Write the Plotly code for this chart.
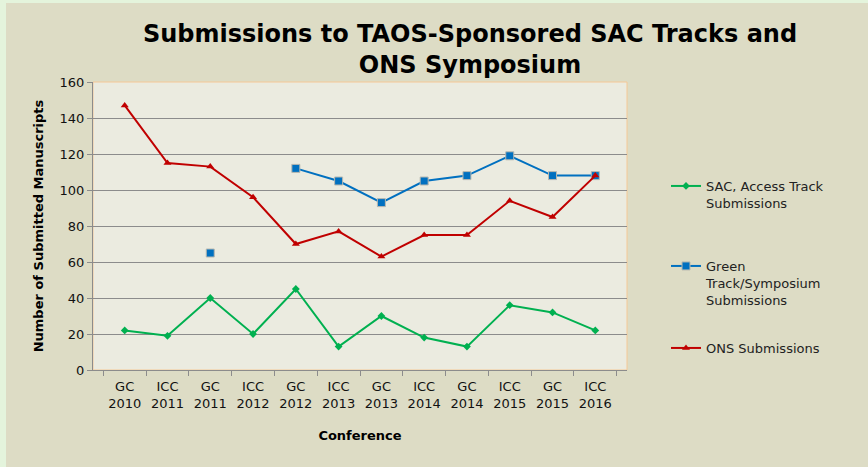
import plotly.graph_objects as go

categories = ["GC<br>2010", "ICC<br>2011", "GC<br>2011", "ICC<br>2012", "GC<br>2012", "ICC<br>2013",
              "GC<br>2013", "ICC<br>2014", "GC<br>2014", "ICC<br>2015", "GC<br>2015", "ICC<br>2016"]
sac_access = [22, 19, 40, 20, 45, 13, 30, 18, 13, 36, 32, 22]
green_track = [None, None, 65, None, 112, 105, 93, 105, 108, 119, 108, 108]
ons = [147, 115, 113, 96, 70, 77, 63, 75, 75, 94, 85, 108]
y_ticks = [0, 20, 40, 60, 80, 100, 120, 140, 160]

W, H = 868, 467
L, R, T, B = 93, 627, 82, 370

def px(x):
    return (x - L) / (R - L)

def py(y):
    return (B - y) / (B - T)

FONT = "DejaVu Sans"
fig = go.Figure()
fig.add_trace(go.Scatter(
    x=categories, y=sac_access, mode="lines+markers", name="SAC, Access Track<br>Submissions",
    line=dict(color="#00b050", width=2), marker=dict(symbol="diamond", size=6, color="#00b050"),
    legend="legend", showlegend=True))
fig.add_trace(go.Scatter(
    x=categories, y=green_track, mode="lines+markers", name="Green<br>Track/Symposium<br>Submissions",
    line=dict(color="#0070c0", width=2), connectgaps=False,
    marker=dict(symbol="square", size=8, color="#0070c0", line=dict(color="#b8b8b0", width=1)),
    legend="legend2", showlegend=True))
fig.add_trace(go.Scatter(
    x=categories, y=ons, mode="lines+markers", name="ONS Submissions",
    line=dict(color="#c00000", width=2), marker=dict(symbol="triangle-up", size=7, color="#c00000"),
    legend="legend3", showlegend=True))

legend_common = dict(bgcolor="rgba(0,0,0,0)", font=dict(family=FONT, size=13, color="#222222"),
                     valign="top", xanchor="left", yanchor="top", itemwidth=30)

fig.update_layout(
    width=W, height=H,
    showlegend=True,
    margin=dict(l=L, r=W - R, t=T, b=H - B, pad=0, autoexpand=False),
    paper_bgcolor="#dddcc5",
    plot_bgcolor="#ebebe0",
    font=dict(family=FONT, size=13, color="#111111"),
    title=dict(text="<b>Submissions to TAOS-Sponsored SAC Tracks and<br>ONS Symposium</b>",
               x=470 / W, xanchor="center", xref="container",
               y=1 - 42 / H, yanchor="top", yref="container",
               font=dict(family=FONT, size=24, color="#000000")),
    xaxis=dict(type="category", tickson="boundaries", ticks="outside", ticklen=5, tickcolor="#8c8c8c",
               showline=True, linecolor="#8c8c8c", linewidth=1, showgrid=False, automargin=False,
               tickfont=dict(size=13, color="#111111"), ticklabelstandoff=4,
               title=dict(text="<b>Conference</b>", font=dict(size=13, color="#000000"), standoff=21)),
    yaxis=dict(range=[0, 160], tickvals=y_ticks, ticks="outside", ticklen=5, tickcolor="#8c8c8c",
               showline=True, linecolor="#8c8c8c", linewidth=1, showgrid=True, gridcolor="#8c8c8c",
               gridwidth=1, zeroline=False, tickfont=dict(size=13, color="#111111"), automargin=False,
               title=dict(text="<b>Number of Submitted Manuscripts</b>", font=dict(size=13, color="#000000"),
                          standoff=13)),
    legend=dict(x=px(666), y=py(171), **legend_common),
    legend2=dict(x=px(666), y=py(251), **legend_common),
    legend3=dict(x=px(666), y=py(333), **legend_common),
    shapes=[
        dict(type="rect", xref="paper", yref="paper", x0=0, x1=1, y0=0, y1=1,
             line=dict(color="#f5c896", width=1), fillcolor="rgba(0,0,0,0)", layer="below"),
        dict(type="rect", xref="paper", yref="paper", x0=px(-2), x1=px(6), y0=py(H + 2), y1=py(-2),
             line=dict(width=0), fillcolor="#e4f4dc"),
        dict(type="rect", xref="paper", yref="paper", x0=px(-2), x1=px(W + 2), y0=py(3), y1=py(-2),
             line=dict(width=0), fillcolor="#e4f4dc"),
    ],
)

fig.write_html("out.html",
               config={"displayModeBar": False},
               post_script="document.body.style.margin='0';document.body.style.padding='0';"
                           "document.body.style.background='#e4f4dc';")
